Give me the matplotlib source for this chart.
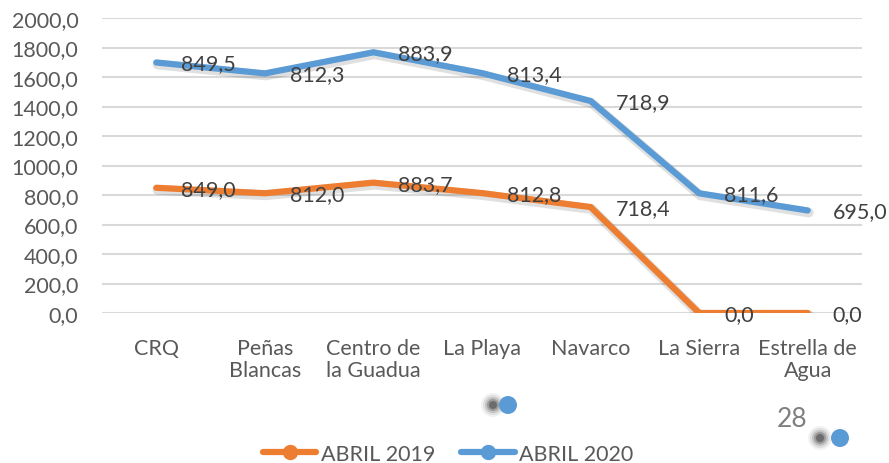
import matplotlib
matplotlib.use("Agg")
import matplotlib.pyplot as plt
import matplotlib.patheffects as pe
from matplotlib.lines import Line2D
from matplotlib.patches import Circle
import numpy as np

# Valores por estación (líneas apiladas)
categorias = ["CRQ", "Peñas\nBlancas", "Centro de\nla Guadua", "La Playa",
              "Navarco", "La Sierra", "Estrella de\nAgua"]
abril_2019 = [849.0, 812.0, 883.7, 812.8, 718.4, 0.0, 0.0]
abril_2020 = [849.5, 812.3, 883.9, 813.4, 718.9, 811.6, 695.0]
yticks = [0, 200, 400, 600, 800, 1000, 1200, 1400, 1600, 1800, 2000]

plt.rcParams["font.family"] = ["Lato", "DejaVu Sans"]

W, H = 889, 464
fig = plt.figure(figsize=(W / 100, H / 100), dpi=100)
ax = fig.add_axes([102 / W, 1 - 314 / H, 760 / W, 295 / H])

x = np.arange(len(categorias))
y19 = np.array(abril_2019)
y20 = y19 + np.array(abril_2020)

orange = "#ED7D31"
blue = "#5B9BD5"
shadow = [pe.SimpleLineShadow(offset=(0.8, -1.5), shadow_color="#000000", alpha=0.12, linewidth=7),
          pe.Normal()]

ax.plot(x, y19, color=orange, lw=4.5, solid_capstyle="round", solid_joinstyle="miter",
        path_effects=shadow, zorder=3)
ax.plot(x, y20, color=blue, lw=4.5, solid_capstyle="round", solid_joinstyle="miter",
        path_effects=shadow, zorder=3)

def fmt(v):
    return f"{v:.1f}".replace(".", ",")

FS = 15.5
for xi, yb, v in zip(x, y19, abril_2019):
    ax.annotate(fmt(v), (xi, yb), xytext=(25, -1), textcoords="offset pixels",
                ha="left", va="center", fontsize=FS, color="#404040", zorder=4)
for xi, yt, v in zip(x, y20, abril_2020):
    ax.annotate(fmt(v), (xi, yt), xytext=(25, -1), textcoords="offset pixels",
                ha="left", va="center", fontsize=FS, color="#404040", zorder=4)

ax.set_xlim(-0.5, len(categorias) - 0.5)
ax.set_ylim(0, 2000)
ax.set_yticks(yticks)
ax.set_yticklabels([fmt(t) for t in yticks], fontsize=FS, color="#595959")
ax.set_xticks(x)
ax.set_xticklabels(categorias, fontsize=FS, color="#595959", linespacing=1.15, va="top")
ax.tick_params(axis="both", length=0)
ax.tick_params(axis="y", pad=17)
ax.tick_params(axis="x", pad=18)
ax.grid(axis="y", color="#D9D9D9", lw=1.5)
ax.set_axisbelow(True)
for s in ax.spines.values():
    s.set_visible(False)

# Leyenda inferior con marcadores
handles = [Line2D([0], [0], color=orange, lw=4.5, marker="o", ms=10, solid_capstyle="round"),
           Line2D([0], [0], color=blue, lw=4.5, marker="o", ms=10, solid_capstyle="round")]
fig.legend(handles, ["ABRIL 2019", "ABRIL 2020"], loc="center",
           bbox_to_anchor=(448 / W, 1 - 455 / H), ncol=2, frameon=False, fontsize=FS,
           labelcolor="#595959", handlelength=2.5, handletextpad=0.2, columnspacing=1.2)

# Capa en píxeles para los elementos decorativos de la diapositiva
deco = fig.add_axes([0, 0, 1, 1], zorder=5)
deco.set_xlim(0, W)
deco.set_ylim(H, 0)
deco.axis("off")

def dot_with_shadow(px, py, sx):
    for r, a in [(12, 0.05), (10, 0.08), (8, 0.13), (6, 0.2), (4, 0.3)]:
        deco.add_patch(Circle((sx, py), r, color="#000000", alpha=a, lw=0))
    deco.add_patch(Circle((px, py), 9, color=blue, lw=0))

dot_with_shadow(508, 406, 493)
dot_with_shadow(840, 439, 820)
deco.text(792, 420, "28", fontsize=19, color="#7F7F7F", ha="center", va="center")

fig.savefig("out.png", dpi=100)
